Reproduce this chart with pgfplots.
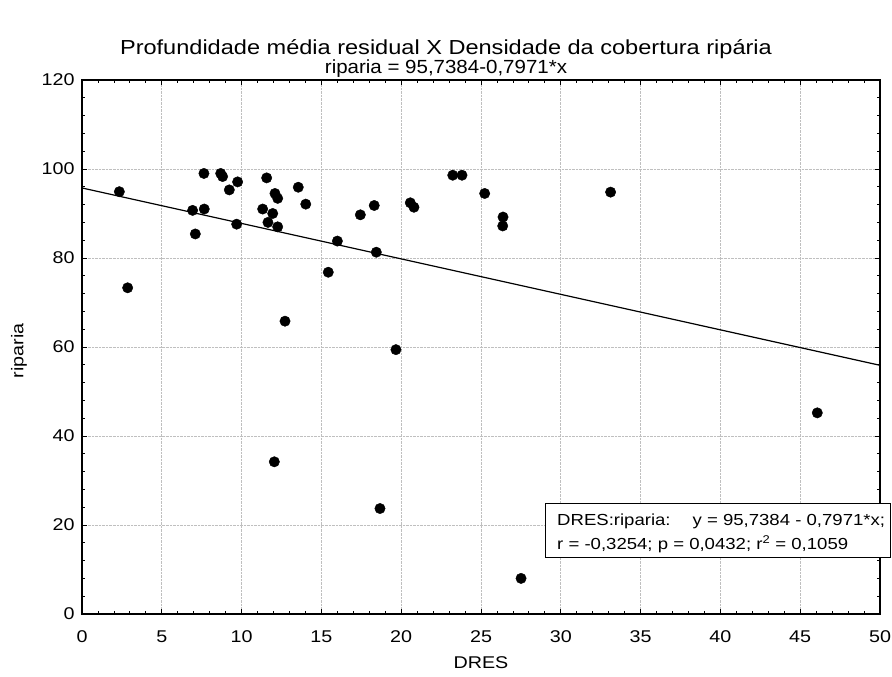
\documentclass[border=0pt]{standalone}
\usepackage{pgfplots}
\pgfplotsset{compat=1.18}
\usepackage{fontspec}
\setmainfont{Liberation Sans}[FakeStretch=1.16]
\begin{document}
\begin{tikzpicture}[x=1bp,y=1bp]
\useasboundingbox (0,0) rectangle (892,677);
\begin{axis}[
 at={(82bp,63bp)}, anchor=south west,
 scale only axis, width=798bp, height=534bp,
 xmin=0, xmax=50, ymin=0, ymax=120,
 xtick={0,5,...,50}, ytick={0,20,...,120},
 minor x tick num=4, minor y tick num=4,
 tick align=inside, tick pos=both,
 major tick length=5bp, minor tick length=3bp,
 grid=major, major grid style={densely dotted, black!25, line width=0.8bp},
 axis line style={black, line width=1.3bp},
 tick style={black, line width=0.8bp},
 ticklabel style={font=\fontsize{17bp}{20bp}\selectfont},
 xticklabel style={anchor=base, yshift=-29bp},
 yticklabel style={xshift=-4bp},
 /pgf/number format/assume math mode=true,
]
\addplot[black, line width=1.2bp] coordinates {(0,95.7384) (50,55.8834)};
\addplot[only marks, mark=*, mark size=5.2bp, black] coordinates {
(2.34,94.9) (2.86,73.3) (6.93,90.7) (7.10,85.4) (7.64,99.0) (7.66,91.0)
(8.69,99.0) (8.81,98.3) (9.23,95.3) (9.69,87.6) (9.75,97.1) (11.32,91.0)
(11.57,98.0) (11.65,88.0) (11.95,90.0) (12.05,34.2) (12.09,94.5) (12.26,93.4)
(12.26,87.0) (12.72,65.8) (13.55,95.9) (14.02,92.1) (15.43,76.8) (16.0,83.8)
(17.44,89.7) (18.31,91.8) (18.44,81.3) (18.67,23.7) (19.67,59.4) (20.57,92.4)
(20.80,91.4) (23.23,98.6) (23.81,98.6) (25.23,94.5) (26.36,87.2) (26.38,89.2)
(27.51,8.0) (33.12,94.8) (46.07,45.2)
};
\end{axis}
\node[anchor=base, font=\fontsize{17bp}{20bp}\selectfont] at (481,8) {DRES};
\node[rotate=90, anchor=center, font=\fontsize{17bp}{20bp}\selectfont] at (19,326) {riparia};
\node[anchor=base, font=\fontsize{20.3bp}{24bp}\selectfont] at (446,622) {Profundidade média residual X Densidade da cobertura ripária};
\node[anchor=base, font=\fontsize{19bp}{22bp}\selectfont] at (446,603) {\scalebox{0.93}[1]{riparia = 95,7384-0,7971*x}};
\draw[black, line width=1bp, fill=white] (545,119) rectangle (890,173);
\node[anchor=base west, inner sep=0pt, font=\fontsize{16bp}{20bp}\selectfont] at (557,151.3) {DRES:riparia:\hspace{22bp}y = 95,7384 - 0,7971*x;};
\node[anchor=base west, inner sep=0pt, font=\fontsize{16bp}{20bp}\selectfont] at (557,127) {r = -0,3254; p = 0,0432; r\textsuperscript{2} = 0,1059};
\end{tikzpicture}
\end{document}
